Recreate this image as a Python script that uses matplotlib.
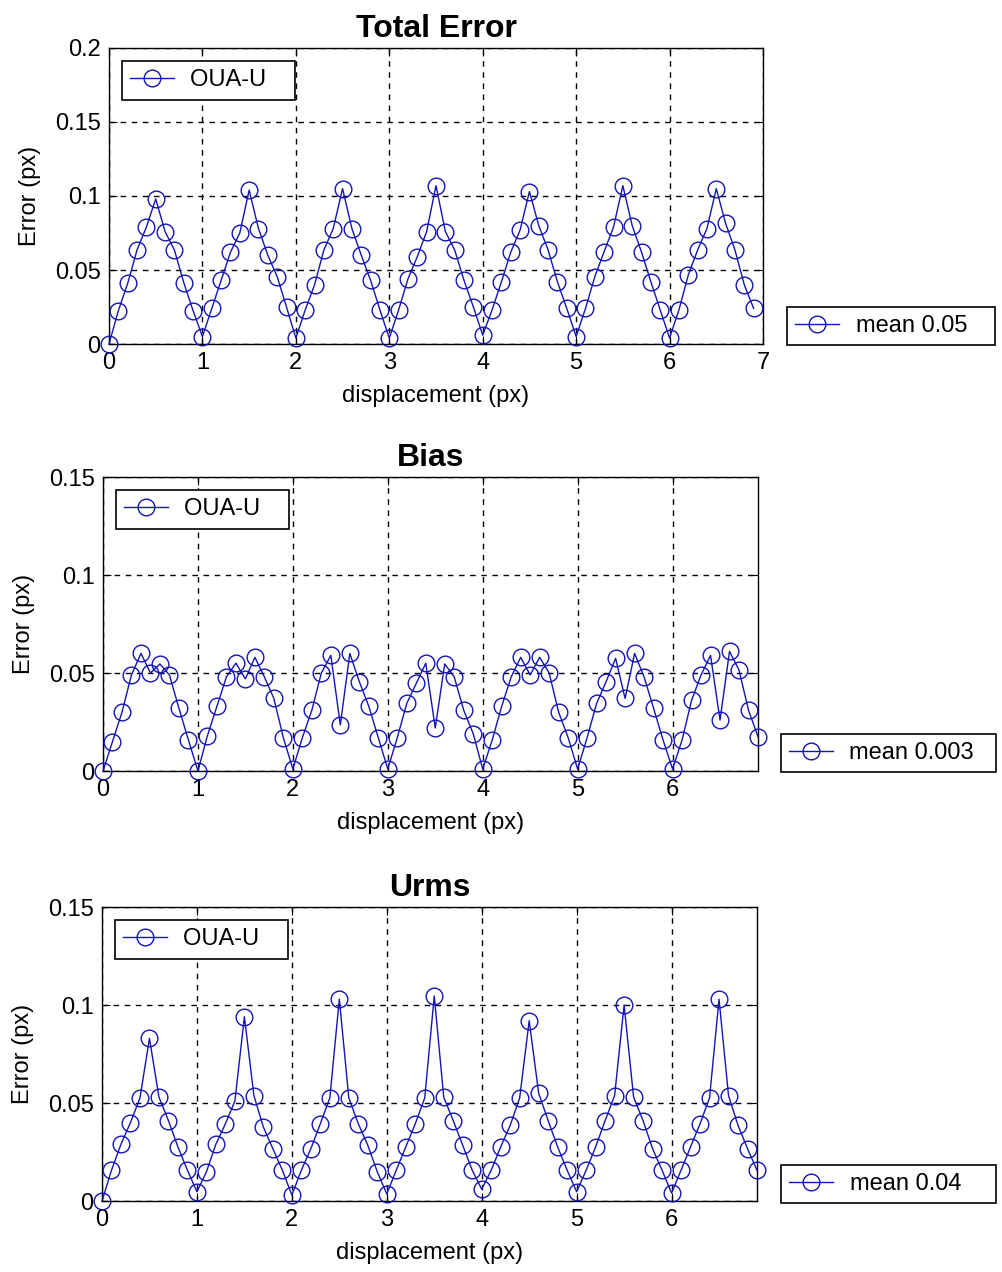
import numpy as np
import matplotlib
matplotlib.use("Agg")
import matplotlib.pyplot as plt
from matplotlib.ticker import FuncFormatter

plt.rcParams["font.family"] = ["Liberation Sans", "DejaVu Sans"]

# displacement samples (px)
displacement = np.round(np.arange(0, 7.0, 0.1), 1)

total_error = [
    0.000, 0.0225, 0.041, 0.0635, 0.079, 0.098, 0.076, 0.0635, 0.0415, 0.0225,
    0.005, 0.024, 0.043, 0.062, 0.075, 0.104, 0.078, 0.060, 0.0455, 0.025,
    0.004, 0.023, 0.040, 0.0635, 0.078, 0.105, 0.078, 0.060, 0.043, 0.023,
    0.004, 0.023, 0.044, 0.059, 0.076, 0.107, 0.076, 0.0635, 0.043, 0.025,
    0.006, 0.023, 0.042, 0.062, 0.077, 0.103, 0.080, 0.0635, 0.042, 0.024,
    0.005, 0.024, 0.0455, 0.0625, 0.079, 0.107, 0.080, 0.062, 0.042, 0.023,
    0.004, 0.023, 0.0465, 0.0635, 0.078, 0.105, 0.0815, 0.0635, 0.040, 0.024,
]

bias = [
    0.000, 0.015, 0.030, 0.049, 0.060, 0.050, 0.0546, 0.049, 0.032, 0.0158,
    0.000, 0.018, 0.033, 0.048, 0.055, 0.047, 0.058, 0.048, 0.037, 0.017,
    0.001, 0.017, 0.031, 0.050, 0.059, 0.0235, 0.060, 0.0456, 0.033, 0.017,
    0.001, 0.017, 0.0345, 0.0447, 0.055, 0.022, 0.0546, 0.048, 0.031, 0.019,
    0.001, 0.0158, 0.033, 0.048, 0.058, 0.049, 0.058, 0.050, 0.030, 0.017,
    0.001, 0.017, 0.0345, 0.0456, 0.0575, 0.037, 0.060, 0.048, 0.032, 0.0158,
    0.001, 0.0158, 0.036, 0.049, 0.059, 0.026, 0.061, 0.0515, 0.031, 0.0175,
]

urms = [
    0.000, 0.0157, 0.029, 0.040, 0.0526, 0.083, 0.053, 0.041, 0.0276, 0.0157,
    0.0047, 0.0149, 0.029, 0.0394, 0.051, 0.094, 0.0538, 0.0377, 0.0267, 0.0157,
    0.003, 0.0157, 0.0267, 0.0394, 0.0526, 0.103, 0.0526, 0.0394, 0.0284, 0.0149,
    0.0036, 0.0157, 0.0276, 0.0394, 0.0526, 0.1046, 0.053, 0.041, 0.0284, 0.0157,
    0.006, 0.0157, 0.0276, 0.0386, 0.0526, 0.092, 0.055, 0.041, 0.0276, 0.0157,
    0.0047, 0.0157, 0.0276, 0.041, 0.0538, 0.100, 0.053, 0.041, 0.0267, 0.0157,
    0.004, 0.0157, 0.0276, 0.0394, 0.0526, 0.103, 0.0538, 0.0386, 0.0267, 0.0157,
]

titles = ["Total Error", "Bias", "Urms"]
means = ["mean 0.05", "mean 0.003", "mean 0.04"]
series_list = [total_error, bias, urms]
y_tops = [0.2, 0.15, 0.15]
x_rights = [7, 6.9, 6.9]
x_tick_max = [7, 6, 6]

# axes rectangles in pixels: left, top, right, bottom
W, H = 1002, 1272
boxes = [(109, 48, 763, 344), (103, 477, 758, 771), (102, 907, 757, 1201)]
side_anchor = [(1.037, -0.005), (1.035, -0.005), (1.037, -0.008)]
side_pad = [3, 2, 4]  # trailing spaces to widen the side legend boxes

BLUE = "#1414b4"
FS = 17

fig = plt.figure(figsize=(W / 100, H / 100), dpi=100)

fmt = FuncFormatter(lambda v, p: ("%g" % round(v, 3)))

for i, (l, t, r, b) in enumerate(boxes):
    ax = fig.add_axes([l / W, (H - b) / H, (r - l) / W, (b - t) / H])
    line, = ax.plot(
        displacement,
        series_list[i],
        color=BLUE,
        linewidth=1.0,
        marker="o",
        markerfacecolor="none",
        markeredgecolor=BLUE,
        markeredgewidth=1.0,
        markersize=12,
        clip_on=False,
        zorder=3,
    )
    ax.set_xlim(0, x_rights[i])
    ax.set_ylim(0, y_tops[i])
    ax.set_xticks(np.arange(0, x_tick_max[i] + 1))
    ax.set_yticks(np.arange(0, y_tops[i] + 0.001, 0.05))
    ax.yaxis.set_major_formatter(fmt)
    ax.xaxis.set_major_formatter(fmt)
    ax.grid(True, color="black", linestyle=(0, (4, 4)), linewidth=1.0)
    ax.tick_params(direction="in", top=True, right=True, length=6,
                   labelsize=FS, pad=6)
    for s in ax.spines.values():
        s.set_linewidth(1.0)
    ax.set_title(titles[i], fontsize=23, fontweight="bold", pad=8)
    ax.set_xlabel("displacement (px)", fontsize=FS, labelpad=8)
    ax.set_ylabel("Error (px)", fontsize=FS, labelpad=10)

    leg1 = ax.legend([line], ["OUA-U   "], loc="upper left", fontsize=FS,
                     fancybox=False, edgecolor="black", framealpha=1,
                     borderaxespad=0.55, borderpad=0.35, handlelength=1.85,
                     handletextpad=0.7)
    leg1.get_frame().set_linewidth(1.2)
    leg1.set_zorder(5)
    ax.add_artist(leg1)
    leg2 = ax.legend([line], [means[i] + " " * side_pad[i]], loc="lower left",
                     bbox_to_anchor=side_anchor[i], fontsize=FS,
                     fancybox=False, edgecolor="black", framealpha=1,
                     borderaxespad=0, borderpad=0.35, handlelength=1.85,
                     handletextpad=0.7)
    leg2.get_frame().set_linewidth(1.2)

fig.savefig("out.png", dpi=100)
